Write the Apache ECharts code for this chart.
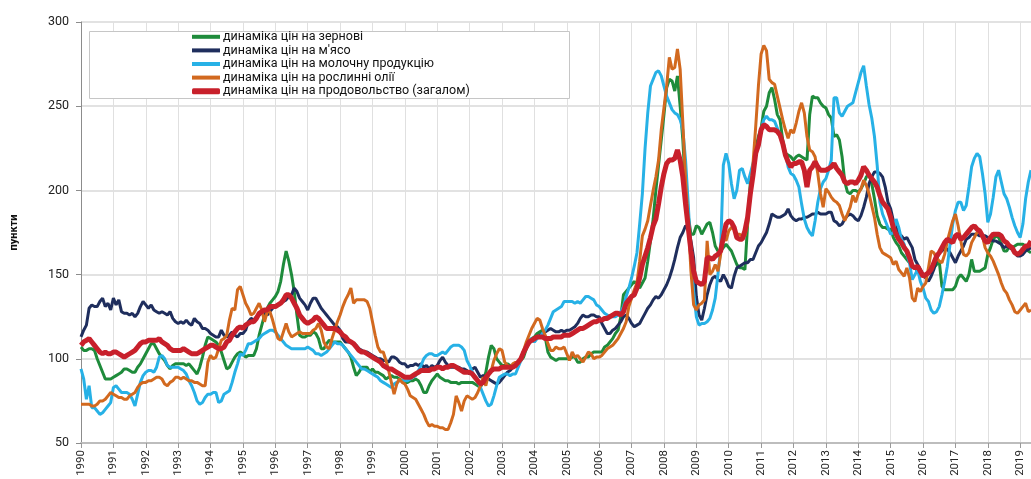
<!DOCTYPE html>
<html><head><meta charset="utf-8">
<script src="https://cdn.jsdelivr.net/npm/echarts@6/dist/echarts.min.js"></script>
<style>html,body{margin:0;padding:0;background:#fff}#c{width:1031px;height:479px}</style>
</head><body><div id="c"></div>
<script>
const firstYear = 1990;
const seriesNames = ['динаміка цін на зернові', "динаміка цін на м'ясо", 'динаміка цін на молочну продукцію', 'динаміка цін на рослинні олії', 'динаміка цін на продовольство (загалом)'];
const yTicks = [50, 100, 150, 200, 250, 300];

const cereals = [
107,105,105,106,106,105,100,96,92,88,88,88,
89,90,91,92,94,94,93,92,92,95,97,100,
103,106,109,109,106,103,101,99,96,94,96,97,
97,97,97,96,97,95,93,91,95,101,108,113,
112,111,110,108,104,99,94,95,98,101,103,104,
103,101,102,102,102,106,114,120,126,130,133,135,
137,140,146,156,164,158,150,140,126,114,113,113,
114,114,116,115,112,106,106,109,111,110,110,110,
110,108,106,104,101,95,90,92,95,95,95,92,
94,92,92,91,90,88,89,90,89,89,88,87,
86,86,87,87,88,87,84,80,80,84,87,89,
91,89,88,87,87,86,86,86,85,86,86,86,
86,86,85,84,83,87,92,101,108,106,100,98,
96,96,97,96,95,97,98,99,101,106,110,112,
113,115,116,117,113,104,101,100,99,100,100,100,
100,100,101,101,98,98,100,101,101,103,104,104,
104,104,107,108,110,112,115,117,125,138,140,142,
144,146,144,142,145,148,158,170,183,200,215,230,
245,261,266,265,259,268,250,230,200,185,174,174,
179,178,174,177,180,181,175,167,164,164,166,168,
166,164,160,156,154,154,153,180,205,215,225,232,
237,247,250,258,261,254,245,242,230,222,221,220,
218,220,221,220,219,218,245,256,255,255,252,250,
249,245,243,232,233,230,220,205,199,198,200,200,
199,201,204,208,210,204,195,185,180,178,178,177,
177,172,169,167,163,161,159,157,155,154,152,151,
150,150,151,152,154,156,158,143,141,141,141,141,
143,148,150,148,146,150,159,152,152,152,153,154,
162,166,171,173,172,168,164,164,167,166,167,168,
168,168,167,164,163];

const meat = [
113,117,120,130,132,131,131,134,136,131,133,129,
136,132,135,128,127,127,126,127,125,127,131,134,
132,130,132,129,128,127,128,127,126,128,124,122,
121,122,121,123,121,120,124,122,121,118,118,117,
115,114,113,113,117,114,113,114,116,114,113,115,
115,117,122,124,123,125,126,127,127,126,128,130,
131,132,133,134,135,137,138,142,140,136,134,132,
129,133,136,136,133,130,128,126,124,122,120,119,
117,112,110,110,110,109,108,106,105,104,104,103,
102,101,100,100,99,99,98,101,101,100,98,97,
97,95,96,96,97,96,97,95,96,94,96,95,
96,99,101,98,96,95,95,95,95,94,94,93,
91,94,95,92,89,90,89,88,87,86,85,86,
88,90,92,93,95,96,98,100,104,107,109,111,
112,113,114,115,116,117,118,117,116,116,117,116,
117,117,118,119,121,124,126,125,125,126,126,125,
125,121,118,115,115,117,118,120,122,125,126,124,
121,119,120,121,124,127,130,132,135,137,136,138,
141,144,148,153,159,166,172,175,179,178,170,160,
137,126,123,130,138,144,148,149,147,146,150,147,
143,142,149,154,155,156,157,157,159,159,163,167,
169,172,175,180,186,185,184,184,185,186,189,185,
183,182,183,183,184,184,185,186,186,187,186,186,
186,187,187,182,181,179,180,183,185,186,185,183,
182,185,190,196,204,208,211,211,210,208,202,193,
189,182,178,174,173,171,172,169,166,159,156,153,
150,148,146,149,153,159,163,164,166,165,163,160,
157,161,164,167,171,172,174,174,174,173,173,173,
172,171,170,170,169,168,166,167,166,165,163,161,
161,162,164,165,166];

const dairy = [
94,88,76,84,71,71,69,67,68,70,72,74,
83,84,82,80,80,80,79,76,72,79,86,90,
92,93,93,92,95,101,102,100,96,95,95,95,
95,94,93,91,87,84,80,75,73,74,77,79,
79,80,80,74,75,79,80,81,86,92,97,103,
102,105,109,109,110,111,112,114,115,116,117,117,
116,114,112,110,108,107,106,106,106,106,106,106,
107,106,105,103,103,102,103,104,106,108,110,109,
109,108,106,104,102,100,98,96,94,94,93,92,
91,90,89,87,86,85,84,83,85,86,87,87,
87,87,88,89,90,93,96,100,102,103,103,102,
102,103,104,103,105,107,108,108,108,107,105,99,
96,92,89,87,83,79,75,72,73,78,84,89,
90,91,91,90,91,91,95,99,104,108,111,112,
110,112,113,115,117,120,124,128,129,130,131,134,
134,134,134,133,134,133,135,137,137,136,135,132,
131,129,127,126,125,125,125,126,128,131,137,142,
148,155,163,180,198,225,246,262,266,270,271,268,
262,256,252,248,246,245,242,236,218,192,160,140,
125,120,121,121,122,124,129,136,150,165,215,222,
216,204,195,200,212,213,208,204,210,216,223,226,
236,242,244,242,242,241,237,233,227,222,214,210,
209,206,202,192,183,178,175,173,182,193,201,205,
207,212,218,255,255,246,244,247,250,251,252,258,
264,270,274,262,251,243,232,215,193,186,182,178,
174,175,183,178,171,168,162,157,147,150,153,146,
142,136,134,129,127,128,131,138,146,155,168,180,
188,193,193,188,191,202,214,219,222,220,210,198,
181,186,196,208,212,205,198,195,190,184,179,175,
172,180,195,205,212];

const oils = [
73,73,73,73,72,72,73,75,75,76,78,80,
79,78,77,77,76,76,78,79,80,83,85,86,
86,87,87,88,89,89,88,85,84,86,87,89,
89,88,89,88,87,87,86,86,85,84,84,98,
102,100,101,106,111,112,114,123,130,129,141,143,
138,133,130,126,127,130,133,129,122,128,128,123,
117,112,111,116,121,116,113,114,115,116,115,115,
115,115,117,118,121,117,110,107,106,112,117,122,
126,131,135,138,142,133,135,135,135,135,134,130,
122,114,107,104,104,99,93,86,79,85,88,86,
85,82,78,77,76,73,70,67,63,60,61,60,
60,59,59,58,58,62,67,78,74,69,75,78,
77,76,77,80,84,89,84,91,93,99,103,106,
105,98,96,95,97,98,97,100,105,110,114,118,
121,124,123,118,114,109,105,105,107,106,106,107,
103,99,104,101,102,100,98,101,104,103,100,101,
101,102,104,106,107,108,110,112,115,118,122,131,
136,141,145,158,173,177,182,191,200,208,218,236,
249,262,279,272,273,284,272,240,206,182,152,132,
129,132,133,135,170,150,152,156,152,162,174,170,
176,178,177,174,174,173,173,180,198,216,238,262,
281,286,283,266,264,263,256,249,242,236,231,236,
234,240,247,252,246,232,224,223,220,210,198,190,
201,199,196,194,193,191,186,182,186,190,197,193,
198,201,206,203,198,191,184,174,166,163,162,161,
160,156,158,153,151,149,154,148,136,134,142,140,
143,145,154,164,163,160,158,157,162,170,176,182,
186,179,170,162,161,163,169,172,175,176,173,166,
163,161,158,154,150,145,141,139,135,132,128,127,
129,131,133,128,129];

const food = [
108,110,111,112,110,108,106,104,103,104,103,103,
104,104,103,102,101,102,103,104,105,107,109,110,
110,111,111,111,111,112,110,109,108,106,105,105,
105,105,106,105,104,103,103,103,104,105,106,107,
108,108,107,106,106,107,110,111,114,116,118,119,
118,120,121,122,122,124,127,128,129,129,131,131,
131,132,133,135,138,138,136,133,130,126,124,122,
121,122,123,125,124,122,120,118,118,118,118,117,
116,114,113,111,110,109,107,105,104,104,103,102,
101,100,99,98,96,95,94,94,93,92,91,90,
89,89,89,90,91,92,93,93,93,93,94,94,
95,95,94,95,95,96,96,95,94,93,92,92,
92,91,89,87,85,86,89,91,93,94,94,94,
95,95,95,95,95,96,98,100,104,107,110,111,
112,113,113,113,112,112,112,113,113,113,113,114,
114,114,115,116,117,118,118,119,120,121,122,122,
123,123,124,124,125,126,127,127,126,128,133,135,
137,138,142,148,156,161,166,172,179,183,192,202,
210,216,218,218,219,224,218,208,192,178,164,152,
146,145,144,146,160,160,159,161,162,164,172,180,
182,181,178,172,171,171,176,184,198,209,222,227,
236,239,238,236,236,236,235,233,228,221,217,214,
216,216,217,217,212,202,212,214,217,214,212,212,
212,213,214,216,213,211,209,205,204,205,205,204,
206,209,214,212,209,207,205,202,197,193,191,189,
184,178,174,171,169,166,164,160,155,154,155,152,
149,150,151,153,157,161,163,166,169,171,170,169,
173,174,171,172,174,176,178,179,177,176,173,170,
169,172,174,174,174,173,170,169,167,166,163,162,
163,165,167,167,170];

const months = [];
for (let i = 0; i < food.length; i++) {
  const y = firstYear + Math.floor(i / 12);
  const m = (i % 12) + 1;
  months.push(y + '-' + (m < 10 ? '0' + m : m));
}
const isYear = (idx) => idx % 12 === 0;
const FONT = 'Roboto, "Liberation Sans", sans-serif';
const colors = ['#1e8b3b', '#1f2e5d', '#27b1e6', '#d2691f', '#c8202b'];
const data = [cereals, meat, dairy, oils, food];

const chart = echarts.init(document.getElementById('c'), null, {renderer: 'canvas'});
chart.setOption({
  animation: false,
  textStyle: {fontFamily: FONT},
  grid: {left: 81, right: 0, top: 22, bottom: 36, containLabel: false},
  graphic: [{
    type: 'rect', left: 89, top: 31, z: 3,
    shape: {width: 480, height: 67},
    style: {fill: '#fff', stroke: '#c6c6c6', lineWidth: 1}
  }],
  legend: [{
    orient: 'vertical', left: 192, top: 30, padding: 0, itemGap: 0,
    itemWidth: 28, itemHeight: 4, icon: 'rect', z: 5,
    textStyle: {fontFamily: FONT, fontSize: 12.5, lineHeight: 13.6, color: '#111', padding: [0, 0, 0, -2]},
    data: seriesNames.slice(0, 4)
  }, {
    orient: 'vertical', left: 192, top: 84.4, padding: 0, itemGap: 0,
    itemWidth: 28, itemHeight: 6, icon: 'roundRect', z: 5,
    textStyle: {fontFamily: FONT, fontSize: 12.5, lineHeight: 13.6, color: '#111', padding: [0, 0, 0, -2]},
    data: seriesNames.slice(4)
  }],
  xAxis: {
    type: 'category', data: months, boundaryGap: false,
    axisLine: {lineStyle: {color: '#bdbdbd', width: 2}},
    axisTick: {interval: isYear, length: 5, lineStyle: {color: '#999'}},
    axisLabel: {interval: isYear, formatter: v => v.slice(0, 4), rotate: 90, fontSize: 11.5, color: '#222', margin: 7, fontFamily: FONT},
    splitLine: {show: true, interval: isYear, lineStyle: {color: '#e0e0e0', width: 1}}
  },
  yAxis: {
    type: 'value', min: yTicks[0], max: yTicks[yTicks.length - 1], interval: 50,
    name: 'пункти', nameLocation: 'middle', nameGap: 61, nameRotate: 90,
    nameTextStyle: {fontWeight: 'bold', fontSize: 11, color: '#111', fontFamily: FONT},
    axisLine: {show: true, lineStyle: {color: '#8c8c8c', width: 1}},
    axisTick: {show: true, length: 5, lineStyle: {color: '#8c8c8c'}},
    axisLabel: {fontSize: 12.5, color: '#222', margin: 12, fontFamily: FONT},
    splitLine: {lineStyle: {color: '#d9d9d9', width: 1.5}}
  },
  series: data.map((d, i) => ({
    name: seriesNames[i], type: 'line', data: d, showSymbol: false, symbol: 'none',
    color: colors[i], z: 2 + i,
    lineStyle: {color: colors[i], width: i === 4 ? 5 : 3}
  }))
});
</script></body></html>
